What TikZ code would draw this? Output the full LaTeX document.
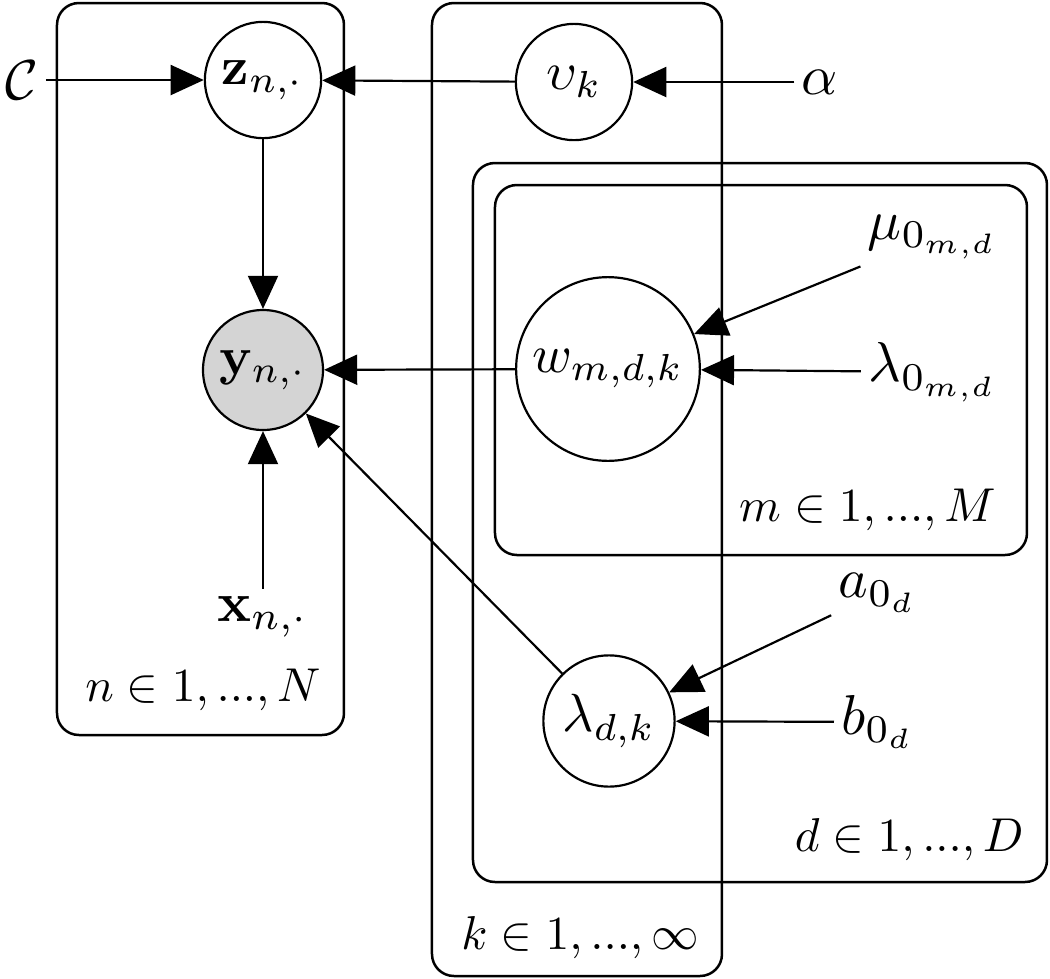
\documentclass[tikz,border=0pt]{standalone}
\usepackage{amsmath,amssymb,graphicx}
\usetikzlibrary{arrows.meta}
\newcommand{\rvtext}[1]{\scalebox{0.86}{$#1$}}
\newcommand{\cntext}[1]{\scalebox{0.9}{$#1$}}
\newcommand{\pltext}[1]{\scalebox{0.76}{$#1$}}
\begin{document}
\begin{tikzpicture}[x=0.16pt,y=-0.16pt,
  latentnode/.style={circle,draw,fill=white,inner sep=0pt,line width=0.35pt},
  obsnode/.style={latentnode,fill=black!17},
  constnode/.style={inner sep=1pt},
  edge/.style={-{Triangle[length=5.3pt,width=4.8pt]},line width=0.35pt},
  platebox/.style={draw,rounded corners=3.5pt,line width=0.4pt},
  platelabel/.style={anchor=east,inner sep=0pt}]
\useasboundingbox (0,0) rectangle (1050,979);
% plates
\draw[platebox] (57,3) rectangle (344,735);
\draw[platebox] (432,3) rectangle (722,976);
\draw[platebox] (473,163) rectangle (1047,882);
\draw[platebox] (495,185) rectangle (1027,555);
\node[platelabel] (ln) at (322,690) {\pltext{n \in 1, ..., N}};
\node[platelabel] (lk) at (700,938) {\pltext{k \in 1, ..., \infty}};
\node[platelabel] (ld) at (1025,840) {\pltext{d \in 1, ..., D}};
\node[platelabel] (lm) at (997,510) {\pltext{m \in 1, ..., M}};
% random variables
\node[latentnode,minimum size=18.6pt] (z) at (263,80) {\rvtext{\mathbf{z}_{n,\cdot}}};
\node[latentnode,minimum size=18.6pt] (v) at (574,82) {\rvtext{\upsilon_k}};
\node[obsnode,minimum size=19.2pt] (y) at (263,370) {\rvtext{\mathbf{y}_{n,\cdot}}};
\node[latentnode,minimum size=29.4pt] (w) at (608,369) {\rvtext{w_{m,d,k}}};
\node[latentnode,minimum size=21pt] (lam) at (609,721) {\rvtext{\lambda_{d,k}}};
% constants
\node[constnode] (C) at (22,80) {\cntext{\mathcal{C}}};
\node[constnode] (alpha) at (820,82) {\cntext{\alpha}};
\node[constnode] (x) at (263,617) {\cntext{\mathbf{x}_{n,\cdot}}};
\node[constnode] (mu) at (933,237) {\cntext{\mu_{0_{m,d}}}};
\node[constnode] (lam0) at (933,372) {\cntext{\lambda_{0_{m,d}}}};
\node[constnode] (a) at (878,593) {\cntext{a_{0_d}}};
\node[constnode] (b) at (878,722) {\cntext{b_{0_d}}};
% edges
\draw[edge] (C) -- (z);
\draw[edge] (v) -- (z);
\draw[edge] (alpha) -- (v);
\draw[edge] (z) -- (y);
\draw[edge] (x) -- (y);
\draw[edge] (w) -- (y);
\draw[edge] (lam) -- (y);
\draw[edge] (mu) -- (w);
\draw[edge] (lam0) -- (w);
\draw[edge] (a) -- (lam);
\draw[edge] (b) -- (lam);
\end{tikzpicture}
\end{document}
